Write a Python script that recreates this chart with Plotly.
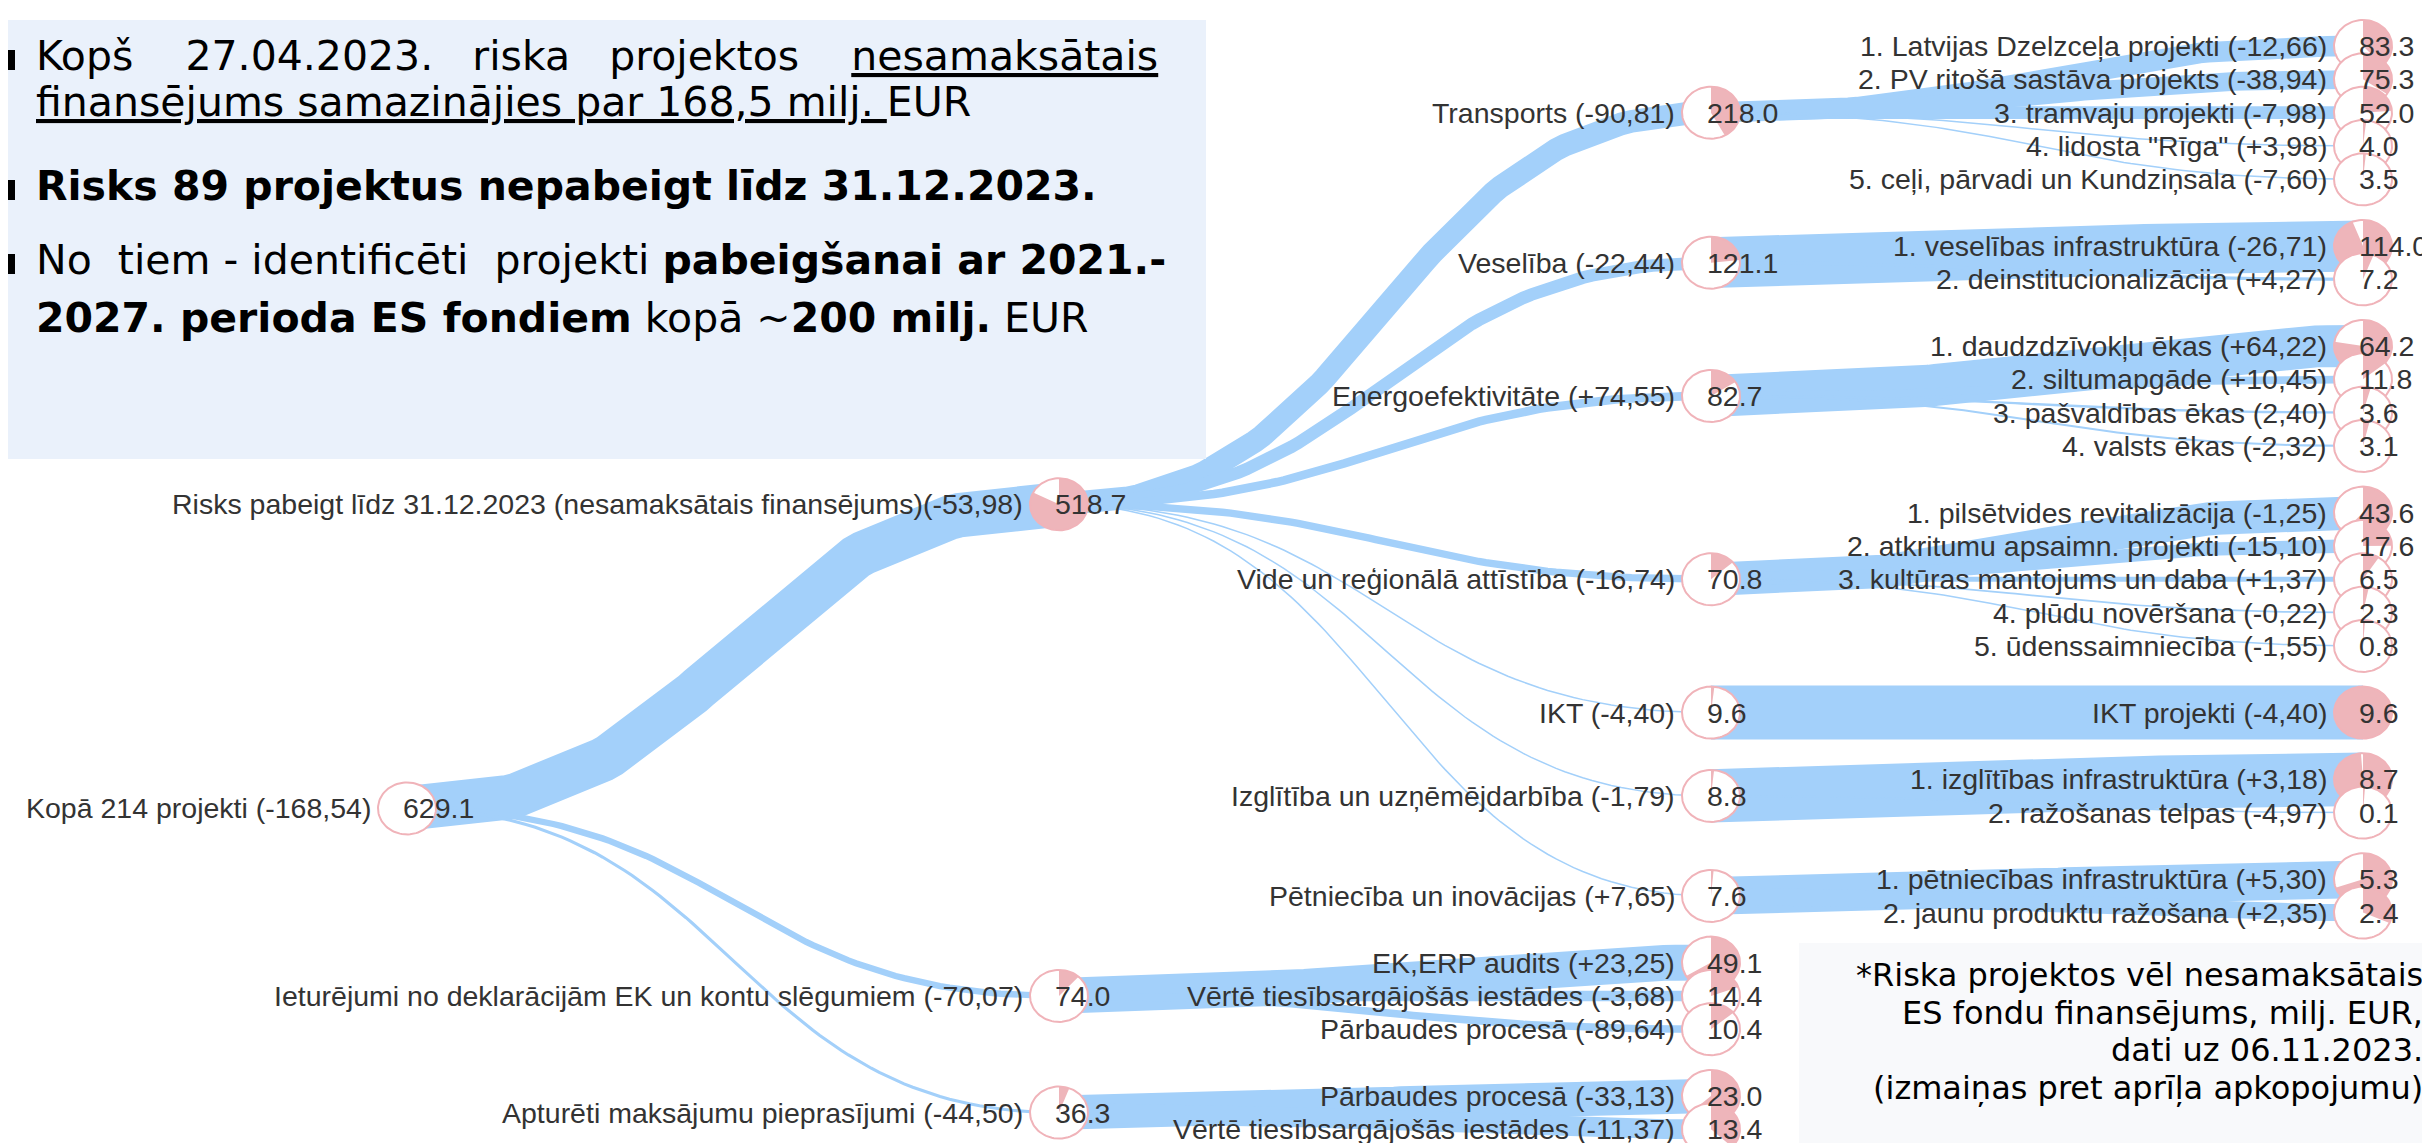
import numpy as np
import plotly.graph_objects as go

# ── data: project tree (unpaid financing, milj. EUR) ──────────────────────────
node_labels = [
    "Kopā 214 projekti (-168,54)",
    "Risks pabeigt līdz 31.12.2023 (nesamaksātais finansējums)(-53,98)",
    "Transports (-90,81)",
    "1. Latvijas Dzelzceļa projekti (-12,66)",
    "2. PV ritošā sastāva projekts (-38,94)",
    "3. tramvaju projekti (-7,98)",
    "4. lidosta \"Rīga\" (+3,98)",
    "5. ceļi, pārvadi un Kundziņsala (-7,60)",
    "Veselība (-22,44)",
    "1. veselības infrastruktūra (-26,71)",
    "2. deinstitucionalizācija (+4,27)",
    "Energoefektivitāte (+74,55)",
    "1. daudzdzīvokļu ēkas (+64,22)",
    "2. siltumapgāde (+10,45)",
    "3. pašvaldības ēkas (2,40)",
    "4. valsts ēkas (-2,32)",
    "Vide un reģionālā attīstība (-16,74)",
    "1. pilsētvides revitalizācija (-1,25)",
    "2. atkritumu apsaimn. projekti (-15,10)",
    "3. kultūras mantojums un daba (+1,37)",
    "4. plūdu novēršana (-0,22)",
    "5. ūdenssaimniecība (-1,55)",
    "IKT (-4,40)",
    "IKT projekti (-4,40)",
    "Izglītība un uzņēmējdarbība (-1,79)",
    "1. izglītības infrastruktūra (+3,18)",
    "2. ražošanas telpas (-4,97)",
    "Pētniecība un inovācijas (+7,65)",
    "1. pētniecības infrastruktūra (+5,30)",
    "2. jaunu produktu ražošana (+2,35)",
    "Ieturējumi no deklarācijām EK un kontu slēgumiem (-70,07)",
    "EK,ERP audits (+23,25)",
    "Vērtē tiesībsargājošās iestādes (-3,68)",
    "Pārbaudes procesā (-89,64)",
    "Apturēti maksājumu pieprasījumi (-44,50)",
    "Pārbaudes procesā (-33,13)",
    "Vērtē tiesībsargājošās iestādes (-11,37)",
]
node_values = [
    629.1,
    518.7,
    218.0, 83.3, 75.3, 52.0, 4.0, 3.5,
    121.1, 114.0, 7.2,
    82.7, 64.2, 11.8, 3.6, 3.1,
    70.8, 43.6, 17.6, 6.5, 2.3, 0.8,
    9.6, 9.6,
    8.8, 8.7, 0.1,
    7.6, 5.3, 2.4,
    74.0, 49.1, 14.4, 10.4,
    36.3, 23.0, 13.4,
]
node_parent = [
    -1,
    0,
    1, 2, 2, 2, 2, 2,
    1, 8, 8,
    1, 11, 11, 11, 11,
    1, 16, 16, 16, 16, 16,
    1, 22,
    1, 24, 24,
    1, 27, 27,
    0, 30, 30, 30,
    0, 34, 34,
]

NB = "\u00a0"
box_lines = [
    "Kopš" + NB * 4 + "27.04.2023." + NB * 3 + "riska" + NB * 3 + "projektos"
    + NB * 4 + "<u>nesamaksātais</u>",
    "<u>finansējums samazinājies par 168,5 milj. </u>EUR",
    "<b>Risks 89 projektus nepabeigt līdz 31.12.2023.</b>",
    "No" + NB * 2 + "tiem - identificēti" + NB * 2 + "projekti <b>pabeigšanai ar 2021.-</b>",
    "<b>2027. perioda ES fondiem</b> kopā ~<b>200 milj.</b> EUR",
]
note_lines = [
    "*Riska projektos vēl nesamaksātais",
    "ES fondu finansējums, milj. EUR,",
    "dati uz 06.11.2023.",
    "(izmaiņas pret aprīļa apkopojumu)",
]

# ── layout constants (px) ─────────────────────────────────────────────────────
W, H = 2430, 1143
X0, DX = 399, 652       # node column positions
Y0, DY = 38, 33.33      # first row, row pitch
RX, RY = 29, 26         # node ellipse radii
LINK_MAX = 54           # link width when child == parent

BLUE = "#A3D0FA"
PINK = "#EEB5BA"
RING = "#F0B3B9"
TXT = "#333333"
NODE_FONT = dict(family="Liberation Sans, Arial", size=28.5, color=TXT)

n = len(node_labels)
children = [[] for _ in range(n)]
for i, p in enumerate(node_parent):
    if p >= 0:
        children[p].append(i)
depth = [0] * n
for i in range(n):
    p = node_parent[i]
    depth[i] = 0 if p < 0 else depth[p] + 1


def tidy(i):
    """Simple tidy-tree layout: siblings 1 row apart, cousins 2 rows."""
    kids = children[i]
    if not kids:
        return {i: 0.0}, {depth[i]: [0.0, 0.0]}
    pos, cont = tidy(kids[0])
    for k in kids[1:]:
        p2, c2 = tidy(k)
        shift = -1e9
        for d, (lo, hi) in c2.items():
            if d in cont:
                sep = 1 if d == depth[k] else 2
                shift = max(shift, cont[d][1] - lo + sep)
        for m in p2:
            pos[m] = p2[m] + shift
        for d, (lo, hi) in c2.items():
            if d in cont:
                cont[d] = [min(cont[d][0], lo + shift), max(cont[d][1], hi + shift)]
            else:
                cont[d] = [lo + shift, hi + shift]
    pos[i] = (pos[kids[0]] + pos[kids[-1]]) / 2
    cont[depth[i]] = [pos[i], pos[i]]
    return pos, cont


rows, _ = tidy(0)
rmin = min(rows.values())
nx = [X0 + DX * depth[i] for i in range(n)]
ny = [Y0 + DY * (rows[i] - rmin) for i in range(n)]

fig = go.Figure()

# ── links (horizontal bezier, width ~ share of parent) ───────────────────────
t = np.linspace(0, 1, 80)
for i in range(n):
    p = node_parent[i]
    if p < 0:
        continue
    sx, sy, tx, ty = nx[p], ny[p], nx[i], ny[i]
    mx = (sx + tx) / 2
    bx = (1 - t) ** 3 * sx + 3 * (1 - t) ** 2 * t * mx + 3 * (1 - t) * t**2 * mx + t**3 * tx
    by = (1 - t) ** 3 * sy + 3 * (1 - t) ** 2 * t * sy + 3 * (1 - t) * t**2 * ty + t**3 * ty
    w = max(LINK_MAX * node_values[i] / node_values[p], 1.5)
    fig.add_trace(go.Scatter(x=bx, y=by, mode="lines",
                             line=dict(color=BLUE, width=w), hoverinfo="skip"))

# ── nodes: small pies showing share of parent ────────────────────────────────
a = np.linspace(0, 2 * np.pi, 90)
for i in range(n):
    cx, cy = nx[i], ny[i]
    ex, ey = cx + RX * np.sin(a), cy - RY * np.cos(a)
    fig.add_trace(go.Scatter(x=ex, y=ey, mode="lines", fill="toself", fillcolor="white",
                             line=dict(width=0), hoverinfo="skip"))
    p = node_parent[i]
    frac = 0 if p < 0 else node_values[i] / node_values[p]
    if frac > 0.002:
        if frac >= 0.999:
            wx, wy = ex, ey
        else:
            aa = np.linspace(0, 2 * np.pi * frac, max(int(90 * frac), 3))
            wx = np.concatenate([[cx], cx + RX * np.sin(aa), [cx]])
            wy = np.concatenate([[cy], cy - RY * np.cos(aa), [cy]])
        fig.add_trace(go.Scatter(x=wx, y=wy, mode="lines", fill="toself",
                                 fillcolor=PINK, line=dict(width=0), hoverinfo="skip"))
    fig.add_trace(go.Scatter(x=ex, y=ey, mode="lines",
                             line=dict(color=RING, width=2), hoverinfo="skip"))

annotations = []
for i in range(n):
    annotations.append(dict(x=nx[i] - 34, y=ny[i], text=node_labels[i], xanchor="right",
                            yanchor="middle", showarrow=False, font=NODE_FONT))
    annotations.append(dict(x=nx[i] - 6, y=ny[i], text=f"{node_values[i]:.1f}",
                            xanchor="left", yanchor="middle", showarrow=False,
                            font=NODE_FONT))

# ── summary box (top-left) ───────────────────────────────────────────────────
box_y = [48, 94, 178, 252, 310]
for txt, yy in zip(box_lines, box_y):
    annotations.append(dict(x=26, y=yy, text=txt, xanchor="left", yanchor="middle",
                            showarrow=False,
                            font=dict(family="DejaVu Sans", size=41, color="black")))

shapes = [
    dict(type="rect", xref="x", yref="y", x0=-5, x1=1198, y0=12, y1=451,
         fillcolor="#EAF1FB", line=dict(width=0), layer="above"),
    dict(type="rect", xref="x", yref="y", x0=1791, x1=2440, y0=935, y1=1137,
         fillcolor="#F8F9FB", line=dict(width=0), layer="above"),
]
# bullet squares, cut by the left edge as in the slide
for yy in [box_y[0], box_y[2], box_y[3]]:
    shapes.append(dict(type="rect", xref="x", yref="y", x0=-12, x1=7, y0=yy - 6, y1=yy + 14,
                       fillcolor="black", line=dict(width=0), layer="above"))

# ── footnote box ─────────────────────────────────────────────────────────────
for k, txt in enumerate(note_lines):
    annotations.append(dict(x=2417, y=967 + 37.7 * k, text=txt, xanchor="right",
                            yanchor="middle", showarrow=False,
                            font=dict(family="DejaVu Sans", size=32, color="black")))

fig.update_layout(
    width=W, height=H,
    margin=dict(l=0, r=0, t=0, b=0),
    paper_bgcolor="white", plot_bgcolor="white",
    showlegend=False, hovermode=False,
    xaxis=dict(range=[0, W], visible=False, fixedrange=True),
    yaxis=dict(range=[H, 0], visible=False, fixedrange=True),
    annotations=annotations,
    shapes=shapes,
)

fig.write_html("out.html")
